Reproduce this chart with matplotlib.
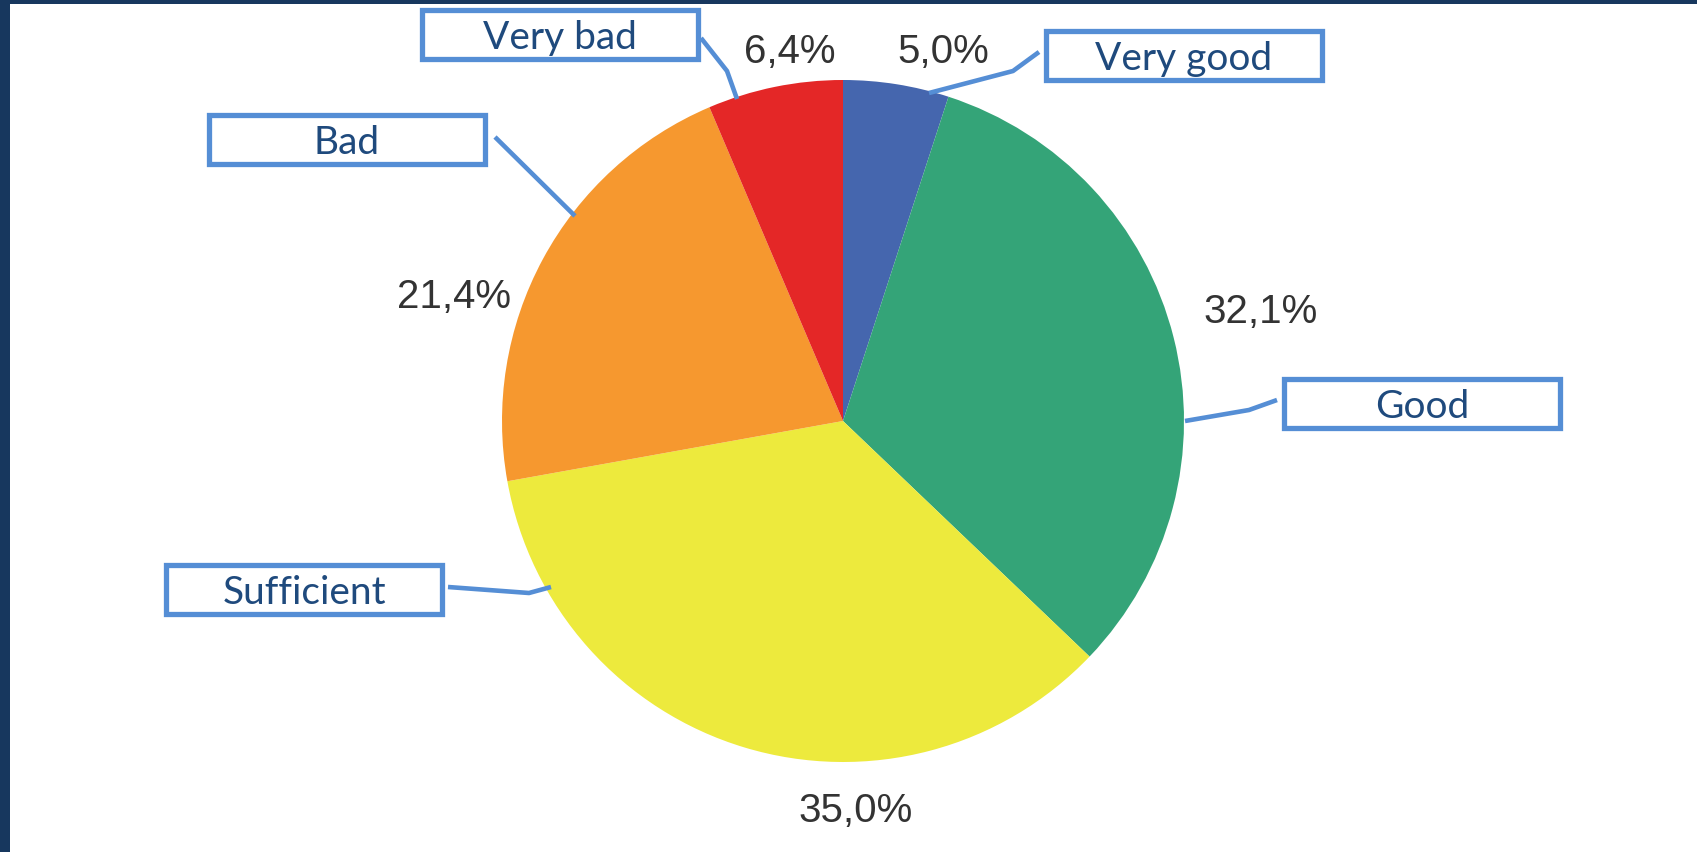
import matplotlib.pyplot as plt
from matplotlib.patches import Rectangle

categories = ["Very good", "Good", "Sufficient", "Bad", "Very bad"]
values = [5.0, 32.1, 35.0, 21.4, 6.4]
colors = ["#4566ae", "#34a478", "#edea3d", "#f6982f", "#e42727"]

W, H = 1697, 853
CX, CY, R = 843, 422, 341

# layout in image pixels (y from top)
pct_pos = [(943, 52), (1261, 312), (856, 811), (454, 297), (790, 52)]
box_pos = [(1046, 32), (1284, 380), (166, 566), (209, 116), (422, 11)]
box_w, box_h = 276, 49
leaders = [
    [(1039, 53), (1013, 72), (929, 94)],
    [(1277, 401), (1249, 411), (1185, 422)],
    [(448, 588), (529, 594), (551, 588)],
    [(495, 138), (575, 217)],
    [(701, 39), (727, 72), (737, 100)],
]

box_color = "#558ed5"
text_color = "#1f4a7d"


def fy(y):
    return H - y


fig = plt.figure(figsize=(W / 100, H / 100), dpi=100)
ax = fig.add_axes([0, 0, 1, 1])

ax.pie(values, colors=colors, startangle=90, counterclock=False,
       center=(CX, fy(CY)), radius=R, wedgeprops=dict(linewidth=0))

ax.set_xlim(0, W)
ax.set_ylim(0, H)
ax.set_aspect('equal')
ax.axis('off')

for v, (x, y) in zip(values, pct_pos):
    ax.text(x, fy(y), f"{v:.1f}%".replace(".", ","), ha='center', va='center',
            fontsize=29, family='Liberation Sans', color='#333333')

for pts in leaders:
    ax.plot([p[0] for p in pts], [fy(p[1]) for p in pts], color=box_color,
            lw=3.3, solid_capstyle='butt', zorder=3)

for name, (x, y) in zip(categories, box_pos):
    ax.add_patch(Rectangle((x, fy(y + box_h)), box_w, box_h, facecolor='white',
                           edgecolor=box_color, lw=3.8, zorder=4))
    ax.text(x + box_w / 2, fy(y + box_h / 2 + 2), name, ha='center', va='center',
            fontsize=28, family='Lato', color=text_color, zorder=5)

# dark frame on top and left edges
ax.add_patch(Rectangle((0, H - 5), W, 5, facecolor='#17375e', lw=0, zorder=6))
ax.add_patch(Rectangle((0, 0), 10, H, facecolor='#17375e', lw=0, zorder=6))

fig.savefig("out.png", dpi=100)
